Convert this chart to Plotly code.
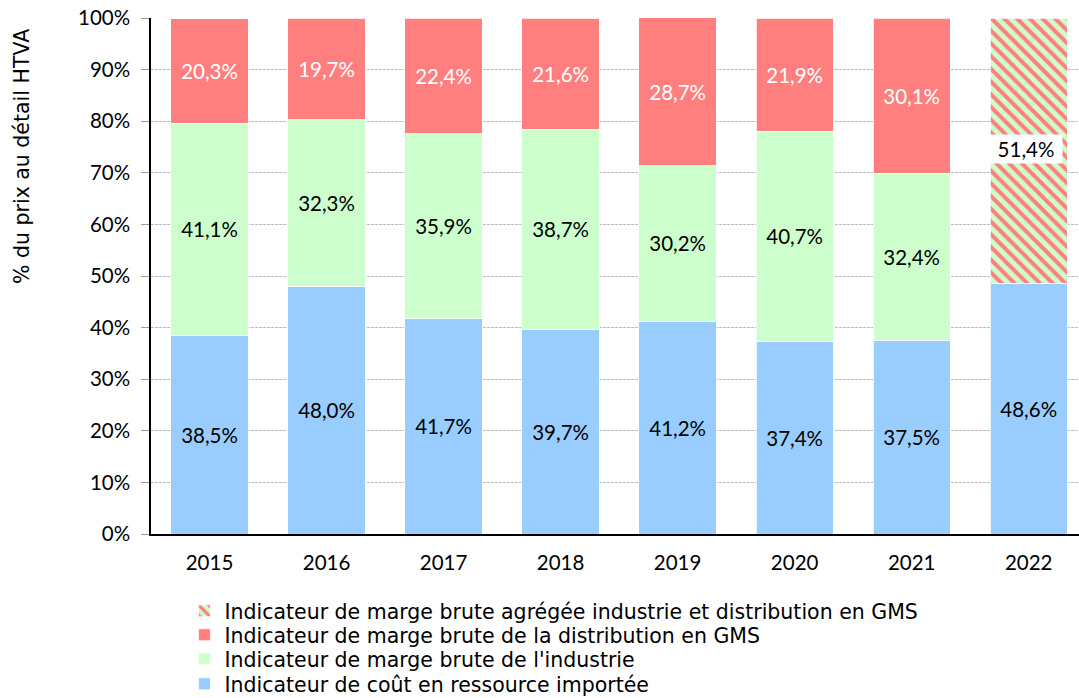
import plotly.graph_objects as go

# Share of the retail price (excl. VAT), by year
years = ["2015", "2016", "2017", "2018", "2019", "2020", "2021", "2022"]
cout_importe = [38.5, 48.0, 41.7, 39.7, 41.2, 37.4, 37.5, 48.6]
marge_industrie = [41.1, 32.3, 35.9, 38.7, 30.2, 40.7, 32.4, None]
marge_distribution = [20.3, 19.7, 22.4, 21.6, 28.7, 21.9, 30.1, None]
marge_agregee = [None, None, None, None, None, None, None, 51.4]

y_ticks = list(range(0, 101, 10))

BLUE = "#99ccff"
GREEN = "#ccffcc"
RED = "#ff7f7f"
NUM_FONT = "Lato"
TXT_FONT = "DejaVu Sans"
NUM_SIZE = 20.5
TXT_SIZE = 20.5


def fmt(v):
    return "" if v is None else f"{v:.1f}".replace(".", ",") + "%"


def label_kwargs(values, color):
    return dict(
        text=[fmt(v) for v in values], textposition="inside",
        insidetextanchor="middle", textangle=0,
        textfont=dict(color=color, size=NUM_SIZE, family=NUM_FONT),
        hoverinfo="skip",
    )


fig = go.Figure()

fig.add_trace(go.Bar(
    x=years, y=cout_importe, name="Indicateur de coût en ressource importée",
    legend="legend4", showlegend=True,
    marker=dict(color=BLUE, line=dict(color="white", width=0.8)),
    **label_kwargs(cout_importe, "black"),
))
fig.add_trace(go.Bar(
    x=years, y=marge_industrie, name="Indicateur de marge brute de l'industrie",
    legend="legend3", showlegend=True,
    marker=dict(color=GREEN, line=dict(color="white", width=0.8)),
    **label_kwargs(marge_industrie, "black"),
))
fig.add_trace(go.Bar(
    x=years, y=marge_distribution, name="Indicateur de marge brute de la distribution en GMS",
    legend="legend2", showlegend=True,
    marker=dict(color=RED, line=dict(color="white", width=0.8)),
    **label_kwargs(marge_distribution, "white"),
))
fig.add_trace(go.Bar(
    x=years, y=marge_agregee,
    name="Indicateur de marge brute agrégée industrie et distribution en GMS",
    legend="legend", showlegend=True,
    marker=dict(color=GREEN, line=dict(color="white", width=0.8),
                pattern=dict(shape="\\", fgcolor=RED, bgcolor=GREEN,
                             size=9, solidity=0.45, fillmode="replace")),
    hoverinfo="skip",
))

# Boxed label for the aggregated margin (x given as category index)
for i, (base, v) in enumerate(zip(cout_importe, marge_agregee)):
    if v is not None:
        fig.add_annotation(
            x=i - 0.02, y=base + v / 2 + 0.4, xref="x", yref="y", text=fmt(v),
            showarrow=False, bgcolor="white", width=68, height=24,
            borderpad=2,
            font=dict(color="black", size=NUM_SIZE, family=NUM_FONT),
        )

# Vertical axis title, set near the top of the axis
fig.add_annotation(
    x=-0.139, y=0.7306, xref="paper", yref="paper",
    text="% du prix au détail HTVA", textangle=-90, showarrow=False,
    xanchor="center", yanchor="middle",
    font=dict(size=TXT_SIZE, family=TXT_FONT, color="black"),
)

# One single-entry legend per row, stacked under the plot
legend_rows = {"legend": -0.1492, "legend2": -0.1957,
               "legend3": -0.2422, "legend4": -0.2907}
legend_layout = {
    key: dict(
        x=0.036, xanchor="left", y=ypos, yanchor="middle",
        font=dict(size=TXT_SIZE, family=TXT_FONT, color="black"),
        itemwidth=30, bgcolor="rgba(0,0,0,0)", visible=True,
    )
    for key, ypos in legend_rows.items()
}

fig.update_layout(
    barmode="stack",
    bargap=0.34,
    showlegend=True,
    width=1079, height=698,
    margin=dict(l=151, r=0, t=18, b=164, autoexpand=False),
    paper_bgcolor="white", plot_bgcolor="white",
    font=dict(family=NUM_FONT, size=NUM_SIZE, color="black"),
    xaxis=dict(
        type="category",
        range=[-0.5, 7.43], showline=True, linecolor="black", linewidth=2,
        ticks="", tickfont=dict(size=NUM_SIZE), showgrid=False,
        ticklabelstandoff=9,
    ),
    yaxis=dict(
        range=[0, 100], tickvals=y_ticks,
        ticktext=[f"{t}%" for t in y_ticks],
        showline=True, linecolor="black", linewidth=1.5,
        ticks="outside", ticklen=8, tickcolor="#999999",
        ticklabelstandoff=7,
        showgrid=True, gridcolor="#bbbbbb", griddash="3px,1px", gridwidth=1,
        tickfont=dict(size=NUM_SIZE),
        zeroline=False,
    ),
    **legend_layout,
)

fig.write_html("out.html")
